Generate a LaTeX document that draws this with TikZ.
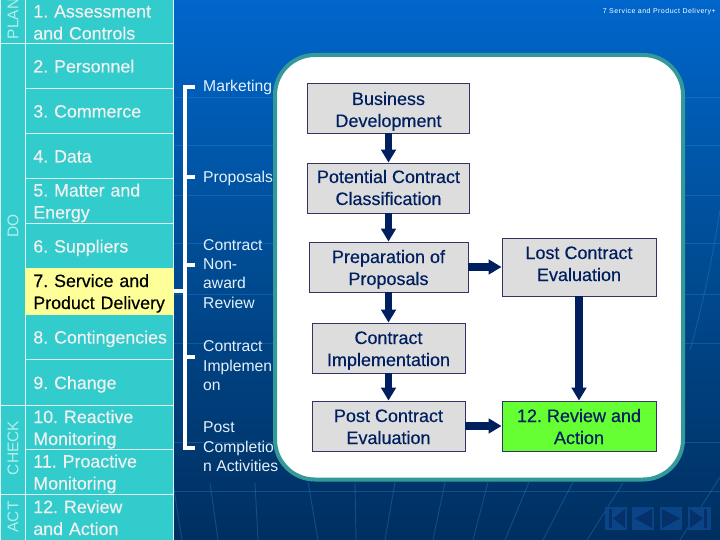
\documentclass[tikz,border=0pt]{standalone}
\usepackage{fontspec}
\setmainfont{Liberation Sans}
\newfontfamily\tinyface[LetterSpace=7]{Liberation Sans}
\newfontfamily\heavyface[FakeBold=0.35]{Liberation Sans}
\usetikzlibrary{arrows.meta}
\frenchspacing
\definecolor{teal1}{HTML}{33CCCC}
\definecolor{pale}{HTML}{FFFF99}
\definecolor{lime}{HTML}{66FF33}
\definecolor{gbox}{HTML}{DDDDDD}
\definecolor{navy1}{HTML}{001F5F}
\definecolor{edge1}{HTML}{333366}
\definecolor{rim}{HTML}{339999}
\definecolor{bgtop}{HTML}{0066CC}
\definecolor{bgmid}{HTML}{00529F}
\definecolor{bgbot}{HTML}{002F60}
\definecolor{gridc}{HTML}{3A8FE0}
\definecolor{navbtn}{HTML}{0A4588}
\definecolor{navtri}{HTML}{05306A}
\definecolor{sidetxt}{HTML}{B5EEEE}
\newcommand\ls{\hspace*{4pt}\rule[-4pt]{0pt}{22pt}}
\newcommand\lb{\rule[-5pt]{0pt}{22pt}}
\newcommand\lt{\rule[-4.5pt]{0pt}{19.3pt}}
\tikzset{
  rowbox/.style={anchor=west,rectangle,fill=teal1,draw=white!85!teal1,line width=.7pt,inner xsep=4pt,inner ysep=0pt,text width=139.5pt,align=left,minimum width=147.5pt,text=white!94!black,font=\heavyface\fontsize{17.8}{22}\selectfont},
  sidebox/.style={rectangle,fill=teal1,draw=white!85!teal1,line width=.7pt,anchor=north west,minimum width=25pt,inner sep=0pt},
  sidetext/.style={rotate=90,text=sidetxt,font=\fontsize{15.5}{18}\selectfont,inner sep=0pt},
  phase/.style={anchor=west,inner sep=0pt,align=left,text=white!90!bgtop,font=\fontsize{15.7}{19.3}\selectfont},
  flowbox/.style={rectangle,draw=edge1,line width=.9pt,fill=gbox,text=navy1,align=center,inner sep=0pt,font=\heavyface\fontsize{18}{22}\selectfont},
  flow/.style={draw=navy1,line width=7.5pt,-{Triangle[width=14.5pt,length=13pt]},shorten >=0pt},
  bracket/.style={draw=white,line width=3.2pt},
  gridline/.style={draw=gridc,line width=.9pt,opacity=.3},
  navb/.style={fill=navbtn},
  navt/.style={fill=navtri},
}
\begin{document}
\begin{tikzpicture}[x=1pt,y=-1pt]
\useasboundingbox (0,0) rectangle (720,540);
% background
\shade[top color=bgtop,bottom color=bgmid] (0,0) rectangle (720,200.5);
\shade[top color=bgmid,bottom color=bgbot] (0,200) rectangle (720,540);
\foreach \yy in {97,145,195,243,294,343,442,491}
  \draw[gridline] (172,\yy) -- (720,\yy);
\draw[gridline] (173,483) -- (182,540);
\draw[gridline] (210,483) -- (218,540);
\draw[gridline] (255,483) -- (258,540);
\draw[gridline] (308,482) -- (318,540);
\draw[gridline] (355,482) -- (356,540);
\draw[gridline] (395,482) -- (385,540);
\draw[gridline] (445,482) -- (433,540);
\draw[gridline] (488,482) -- (473,540);
\draw[gridline] (529,482) -- (505,540);
\draw[gridline] (573,482) -- (543,540);
\draw[gridline] (623,483) -- (587,540);
\draw[gridline] (720,477) -- (680,540);
\draw[gridline] (720,210) .. controls (712,260) and (704,300) .. (690,350);
% side column
\node[sidebox,minimum height=43.5pt] (sa) at (0,-.5) {};
\node[sidebox,minimum height=362pt] (sb) at (0,43) {};
\node[sidebox,minimum height=89pt] (sc) at (0,405) {};
\node[sidebox,minimum height=47pt] (sd) at (0,494) {};
\node[sidetext] (plan) at (13,19) {PLAN};
\node[sidetext] (do) at (13,226) {DO};
\node[sidetext] (check) at (13,448) {CHECK};
\node[sidetext] (act) at (13,517) {ACT};
% rows
\node[rowbox,minimum height=44pt] (r1) at (25,21.5) {\ls 1. Assessment\\\ls and Controls};
\node[rowbox,minimum height=45pt] (r2) at (25,65.5) {\ls 2. Personnel};
\node[rowbox,minimum height=45pt] (r3) at (25,110.5) {\ls 3. Commerce};
\node[rowbox,minimum height=45pt] (r4) at (25,155.5) {\ls 4. Data};
\node[rowbox,minimum height=45pt] (r5) at (25,200.5) {\ls 5. Matter and\\\ls Energy};
\node[rowbox,minimum height=45pt] (r6) at (25,245.5) {\ls 6. Suppliers};
\node[rowbox,minimum height=45pt] (r8) at (25,336.5) {\ls 8. Contingencies};
\node[rowbox,minimum height=46pt] (r9) at (25,382) {\ls 9. Change};
\node[rowbox,minimum height=44pt] (r10) at (25,427) {\ls 10. Reactive\\\ls Monitoring};
\node[rowbox,minimum height=45pt] (r11) at (25,471.5) {\ls 11. Proactive\\\ls Monitoring};
\node[rowbox,minimum height=46pt] (r12) at (25,517) {\ls 12. Review\\\ls and Action};
\node[rowbox,minimum height=46pt,fill=pale,draw=pale,text=black] (r7) at (25,291) {\ls 7. Service and\\\ls Product Delivery};
% bracket
\coordinate (bt) at (185,87);
\coordinate (bb) at (185,448);
\coordinate (b7) at (185,291);
\node[phase] (p1) at (203,86) {\lt Marketing};
\node[phase] (p2) at (203,177) {\lt Proposals};
\node[phase] (p3) at (203,274) {\lt Contract\\\lt Non-\\\lt award\\\lt Review};
\node[phase] (p4) at (203,366) {\lt Contract\\\lt Implemen\\\lt on};
\node[phase] (p5) at (203,447) {\lt Post\\\lt Completio\\\lt n Activities};
\draw[bracket,line cap=butt] (bt) ++(10,0) -- (bt) -- (bb) -- ++(10,0);
\draw[bracket] (185,177) -- (195,177);
\draw[bracket] (185,265) -- (195,265);
\draw[bracket] (185,357) -- (195,357);
\draw[bracket] (r7.east) -- (b7);
% panel
\draw[rim,fill=white,line width=4pt,rounded corners=40pt] (275,55) rectangle (683,479.5);
% flow boxes
\node[flowbox,minimum width=162pt,minimum height=50pt] (bd) at (388.5,108) {\rule[-5pt]{0pt}{26pt}Business\\\lb Development};
\node[flowbox,minimum width=162pt,minimum height=50pt] (pc) at (388.5,188) {\lb Potential Contract\\\lb Classification};
\node[flowbox,minimum width=159pt,minimum height=50pt] (pp) at (388.5,267) {\rule[-5pt]{0pt}{24pt}Preparation of\\\lb Proposals};
\node[flowbox,minimum width=154pt,minimum height=58pt] (lc) at (579,267) {\lb Lost Contract\\\rule[-11pt]{0pt}{28pt}Evaluation};
\node[flowbox,minimum width=153pt,minimum height=50pt] (ci) at (388.5,348) {\rule[-5pt]{0pt}{24pt}Contract\\\lb Implementation};
\node[flowbox,minimum width=153pt,minimum height=50pt] (pe) at (388.5,426) {\rule[-5pt]{0pt}{24pt}Post Contract\\\lb Evaluation};
\node[flowbox,minimum width=154pt,minimum height=50pt,fill=lime] (ra) at (579,426) {\rule[-5pt]{0pt}{24pt}12. Review and\\\lb Action};
\draw[flow] (bd) -- (pc);
\draw[flow] (pc) -- (pp);
\draw[flow] (pp) -- (ci);
\draw[flow] (ci) -- (pe);
\draw[flow] (pp) -- (lc);
\draw[flow] (lc) -- (ra);
\draw[flow] (pe) -- (ra);
% header
\node[anchor=base east,inner sep=0pt,text=white,font=\fontsize{7}{8}\selectfont\tinyface] (hdr) at (716,13.5) {7 Service and Product Delivery+};
% nav buttons
\fill[navb] (605,507) rectangle (627,530);
\fill[navb] (632,507) rectangle (654,530);
\fill[navb] (660,507) rectangle (682,530);
\fill[navb] (688,507) rectangle (711,530);
\fill[navt] (609,509) rectangle (612,528);
\fill[navt] (613,518.5) -- (625,509) -- (625,528) -- cycle;
\fill[navt] (635,518.5) -- (652,509) -- (652,528) -- cycle;
\fill[navt] (662,509) -- (680,518.5) -- (662,528) -- cycle;
\fill[navt] (690,509) -- (703,518.5) -- (690,528) -- cycle;
\fill[navt] (704,509) rectangle (707,528);
\end{tikzpicture}
\end{document}
